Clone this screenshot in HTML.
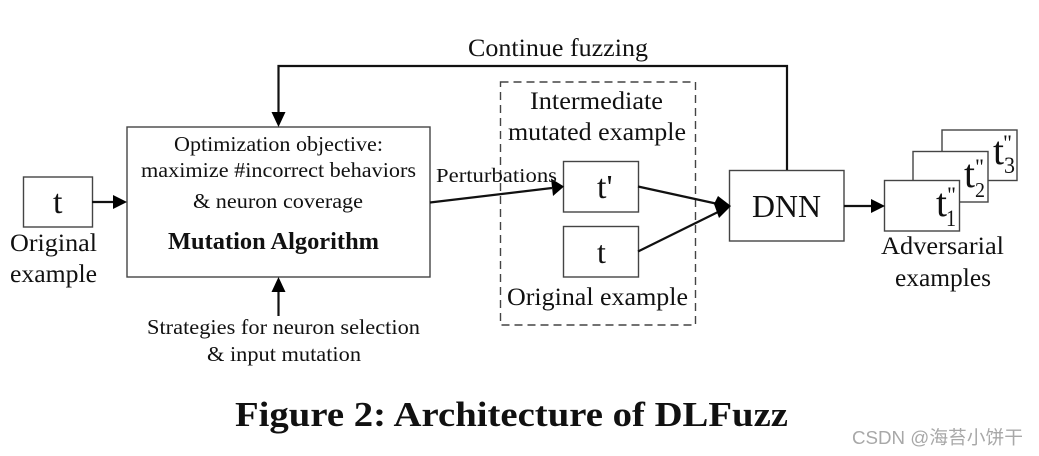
<!DOCTYPE html>
<html><head><meta charset="utf-8"><style>
html,body{margin:0;padding:0;background:#fff}
svg{display:block}
text{font-family:"Liberation Serif",serif;fill:#111}
</style></head><body>
<svg width="1039" height="456" viewBox="0 0 1039 456" xmlns="http://www.w3.org/2000/svg">
<g fill="#fff" stroke="#444" stroke-width="1.4">
<rect x="23.5" y="177" width="69" height="50"/>
<rect x="127" y="127" width="303" height="150"/>
<rect x="500.5" y="82" width="195" height="243" stroke-dasharray="8 5"/>
<rect x="563.5" y="161.5" width="75" height="50.5"/>
<rect x="563.5" y="226.5" width="75" height="50.5"/>
<rect x="729.5" y="170.5" width="114.5" height="70.5"/>
<rect x="942" y="130" width="75" height="50.5"/>
<rect x="913" y="151.5" width="75" height="50.5"/>
<rect x="884.5" y="180.5" width="75" height="50.5"/>
</g>
<g fill="none" stroke="#111" stroke-width="2.2">
<path d="M787 170V66H278.500V114"/>
<path d="M92 202H115"/>
<path d="M278.500 316V290"/>
<path d="M430 202.500L552 188"/>
<path d="M638 186.500L718 204"/>
<path d="M638 251.500L718 212"/>
<path d="M844 206H872"/>
</g>
<g fill="#000">
<path d="M278.500 127L271.500 112H285.500Z"/>
<path d="M127 202L113 195V209Z"/>
<path d="M278.500 277L271.500 292H285.500Z"/>
<path d="M564 186.500L551 178.500L553 196Z"/>
<path d="M731 206L718 196L714 204L719 218Z"/>
<path d="M885 206L871 199V213Z"/>
</g>
<g font-size="25">
<text x="468" y="56" textLength="180" lengthAdjust="spacingAndGlyphs">Continue fuzzing</text>
<text x="10" y="251" textLength="87" lengthAdjust="spacingAndGlyphs">Original</text>
<text x="10" y="282" textLength="87" lengthAdjust="spacingAndGlyphs">example</text>
<text x="530" y="109" textLength="133" lengthAdjust="spacingAndGlyphs">Intermediate</text>
<text x="508" y="140" textLength="178" lengthAdjust="spacingAndGlyphs">mutated example</text>
<text x="507" y="305" textLength="181" lengthAdjust="spacingAndGlyphs">Original example</text>
<text x="881" y="254" textLength="123" lengthAdjust="spacingAndGlyphs">Adversarial</text>
<text x="895" y="286" textLength="96" lengthAdjust="spacingAndGlyphs">examples</text>
</g>
<g font-size="21">
<text x="174" y="151" textLength="209" lengthAdjust="spacingAndGlyphs">Optimization objective:</text>
<text x="141" y="177" textLength="275" lengthAdjust="spacingAndGlyphs">maximize #incorrect behaviors</text>
<text x="193" y="208" textLength="170" lengthAdjust="spacingAndGlyphs">&amp; neuron coverage</text>
<text x="147" y="334" textLength="273" lengthAdjust="spacingAndGlyphs">Strategies for neuron selection</text>
<text x="207" y="361" textLength="154" lengthAdjust="spacingAndGlyphs">&amp; input mutation</text>
<text x="436" y="182" font-size="20" textLength="121" lengthAdjust="spacingAndGlyphs">Perturbations</text>
</g>
<text x="168" y="249" font-size="24" font-weight="bold" textLength="211" lengthAdjust="spacingAndGlyphs">Mutation Algorithm</text>
<g font-size="34">
<text x="53" y="213">t</text>
<text x="597" y="198">t'</text>
<text x="597" y="263" font-size="32">t</text>
<text x="752" y="217" font-size="32" textLength="69" lengthAdjust="spacingAndGlyphs">DNN</text>
<text x="936" y="216" font-size="40" textLength="11" lengthAdjust="spacingAndGlyphs">t</text>
<text x="964" y="187" font-size="40" textLength="11" lengthAdjust="spacingAndGlyphs">t</text>
<text x="993" y="164" font-size="40" textLength="11" lengthAdjust="spacingAndGlyphs">t</text>
</g>
<g font-size="22">
<text x="947" y="202">"</text>
<text x="975" y="174">"</text>
<text x="1003" y="150">"</text>
<text x="946" y="226" font-size="23" textLength="10" lengthAdjust="spacingAndGlyphs">1</text>
<text x="975" y="197" font-size="21" textLength="10" lengthAdjust="spacingAndGlyphs">2</text>
<text x="1004" y="173" font-size="23" textLength="11" lengthAdjust="spacingAndGlyphs">3</text>
</g>
<text x="235" y="426" font-size="35" font-weight="bold" fill="#000" textLength="553" lengthAdjust="spacingAndGlyphs">Figure 2: Architecture of DLFuzz</text>
<text x="852" y="444" font-size="18.500" style="font-family:'Liberation Sans','Noto Sans CJK SC',sans-serif;fill:#a8a8a8" textLength="171" lengthAdjust="spacingAndGlyphs">CSDN @海苔小饼干</text>
</svg>
</body></html>
